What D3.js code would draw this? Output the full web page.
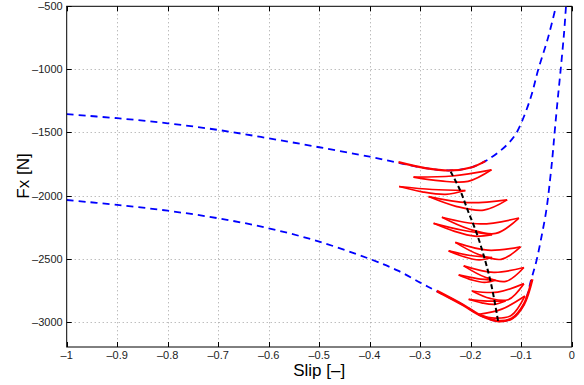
<!DOCTYPE html>
<html><head><meta charset="utf-8">
<script src="https://cdn.jsdelivr.net/npm/d3@7"></script>
<style>body{margin:0;background:#fff}svg{display:block}</style>
</head><body>
<script>
// ---- data ----
const xTicks = [-1,-0.9,-0.8,-0.7,-0.6,-0.5,-0.4,-0.3,-0.2,-0.1,0];
const yTicks = [-3000,-2500,-2000,-1500,-1000,-500];
const upperCurve = [[-1,-1355],[-0.9,-1387],[-0.8,-1427],[-0.7,-1480],[-0.6,-1546],[-0.5,-1617],[-0.4,-1692],[-0.344,-1740],[-0.29,-1782],[-0.2404,-1801],[-0.2,-1778],[-0.171,-1727],[-0.16,-1700],[-0.14,-1640],[-0.125,-1585],[-0.109,-1501],[-0.0826,-1242],[-0.0661,-999],[-0.0463,-741],[-0.0311,-500]];
const lowerCurve = [[-1,-2035],[-0.9,-2074],[-0.8,-2120],[-0.7,-2180],[-0.6,-2259],[-0.5,-2365],[-0.4,-2502],[-0.344,-2595],[-0.3,-2690],[-0.267,-2758],[-0.2172,-2862],[-0.1775,-2955],[-0.1444,-2995],[-0.1179,-2973],[-0.0947,-2862],[-0.08,-2663],[-0.07,-2520],[-0.06,-2330],[-0.05,-2110],[-0.043,-1880],[-0.038,-1690],[-0.0345,-1530],[-0.028,-1250],[-0.0218,-1000],[-0.0152,-714],[-0.0113,-500]];
const redUpper = [[-0.343,-1735],[-0.29,-1782],[-0.2404,-1801],[-0.1974,-1775],[-0.171,-1727]];
const redLower = [[-0.267,-2756],[-0.2172,-2862],[-0.1775,-2955],[-0.1444,-2995],[-0.1179,-2973],[-0.0947,-2862],[-0.0781,-2663]];
const blackLine = [[-0.2396,-1811],[-0.2212,-1956],[-0.2048,-2128],[-0.1881,-2299],[-0.1717,-2510],[-0.1584,-2722],[-0.1454,-3004]];
// loops: [leftTip, upperMid, rightTip, lowerB2, lowerB1]
const loop1 = [[-0.3132,-1854],[-0.2364,-1845],[-0.1589,-1796],[-0.2053,-1888],[-0.2596,-1884]];
const loop2 = [[-0.3417,-1928],[-0.2762,-1952],[-0.2106,-1960],[-0.2497,-1990],[-0.2960,-1970]];
const loop3 = [[-0.2834,-2008],[-0.2060,-2056],[-0.1278,-2034],[-0.1742,-2115],[-0.2291,-2085]];
const loop4 = [[-0.2570,-2172],[-0.1808,-2225],[-0.1046,-2178],[-0.1503,-2300],[-0.2033,-2265]];
const loop5 = [[-0.2735,-2220],[-0.2159,-2275],[-0.1576,-2310],[-0.1921,-2322],[-0.2331,-2282]];
const loop6 = [[-0.2305,-2371],[-0.1662,-2433],[-0.1013,-2406],[-0.1397,-2505],[-0.1854,-2465]];
const loop7 = [[-0.2437,-2438],[-0.2007,-2475],[-0.1576,-2491],[-0.1834,-2510],[-0.2132,-2485]];
const loop8 = [[-0.2139,-2557],[-0.1543,-2608],[-0.0947,-2570],[-0.1305,-2680],[-0.1722,-2645]];
const loop9 = [[-0.2238,-2629],[-0.1874,-2658],[-0.1510,-2671],[-0.1728,-2688],[-0.1980,-2668]];
const loop10 = [[-0.1974,-2756],[-0.1464,-2765],[-0.0947,-2698],[-0.1258,-2825],[-0.1616,-2815]];
const loop11 = [[-0.2040,-2822],[-0.1675,-2836],[-0.1311,-2836],[-0.1530,-2862],[-0.1781,-2850]];
const loop12 = [[-0.1841,-2942],[-0.1384,-2900],[-0.0927,-2796],[-0.1199,-2950],[-0.1523,-2971]];
const loops = [loop1,loop2,loop3,loop4,loop5,loop6,loop7,loop8,loop9,loop10,loop11,loop12];

// ---- chart ----
const W = 584, H = 385;
const L = 66.7, R = 571.7, T = 6.3, B = 347;
const x = d3.scaleLinear().domain([-1,0]).range([L,R]);
const y = d3.scaleLinear().domain([-3200,-500]).range([B,T]);
const fmt = v => (v < 0 ? "\u2013" : "") + String(Math.abs(v));

const svg = d3.select("body").append("svg").attr("width",W).attr("height",H)
  .style("font-family","'Liberation Sans', Arial, Helvetica, sans-serif");
svg.append("rect").attr("width",W).attr("height",H).attr("fill","#fff");

svg.append("clipPath").attr("id","clip").append("rect")
  .attr("x",L).attr("y",T).attr("width",R-L).attr("height",B-T);

// grid
const grid = svg.append("g").attr("stroke","#a0a0a0").attr("stroke-width",1).attr("stroke-dasharray","1,3");
grid.selectAll(".gx").data(xTicks.slice(1,-1)).enter().append("line")
  .attr("x1",d=>Math.round(x(d))+0.5).attr("x2",d=>Math.round(x(d))+0.5).attr("y1",T).attr("y2",B);
grid.selectAll(".gy").data(yTicks.filter(d=>d!==-500)).enter().append("line")
  .attr("y1",d=>Math.round(y(d))+0.5).attr("y2",d=>Math.round(y(d))+0.5).attr("x1",L).attr("x2",R);

const plot = svg.append("g").attr("clip-path","url(#clip)");
const line = d3.line().x(d=>x(d[0])).y(d=>y(d[1])).curve(d3.curveCatmullRom.alpha(0.5));

// blue dashed curves
[upperCurve, lowerCurve].forEach(c => {
  plot.append("path").attr("d",line(c)).attr("fill","none").attr("stroke","#0000ff")
    .attr("stroke-width",1.8).attr("stroke-dasharray","7,5");
});

// red trajectories
const red = plot.append("g").attr("fill","none").attr("stroke","#ff0000").attr("stroke-linejoin","round");
red.append("path").attr("d",line(redUpper)).attr("stroke-width",2.2);
red.append("path").attr("d",line(redLower)).attr("stroke-width",2.6);
loops.forEach(lp => {
  red.append("path").attr("d",line([lp[0],lp[1],lp[2]])).attr("stroke-width",1.7);
  red.append("path").attr("d",line([lp[2],lp[3],lp[4],lp[0]])).attr("stroke-width",1.7);
});

// black dashed
plot.append("path").attr("d",line(blackLine)).attr("fill","none").attr("stroke","#000")
  .attr("stroke-width",2).attr("stroke-dasharray","5,3");

// axes box with inward ticks
const ax = svg.append("g").attr("stroke","#000").attr("stroke-width",1);
ax.append("rect").attr("x",L).attr("y",T).attr("width",R-L).attr("height",B-T).attr("fill","none");
const tl = 5;
xTicks.forEach(d => {
  const px = Math.round(x(d))+0.5;
  ax.append("line").attr("x1",px).attr("x2",px).attr("y1",B).attr("y2",B-tl);
  ax.append("line").attr("x1",px).attr("x2",px).attr("y1",T).attr("y2",T+tl);
});
yTicks.forEach(d => {
  const py = Math.round(y(d))+0.5;
  ax.append("line").attr("y1",py).attr("y2",py).attr("x1",L).attr("x2",L+tl);
  ax.append("line").attr("y1",py).attr("y2",py).attr("x1",R).attr("x2",R-tl);
});

// tick labels
svg.append("g").selectAll("text").data(xTicks).enter().append("text")
  .attr("x",d=>x(d)).attr("y",B+12).attr("text-anchor","middle")
  .attr("font-size",11).attr("fill","#222").text(fmt);
svg.append("g").selectAll("text").data(yTicks).enter().append("text")
  .attr("x",L-4).attr("y",d=>y(d)+4).attr("text-anchor","end")
  .attr("font-size",11).attr("fill","#222").text(fmt);

// axis titles
svg.append("text").attr("x",(L+R)/2).attr("y",376).attr("text-anchor","middle")
  .attr("font-size",17).attr("fill","#000").text("Slip [\u2013]");
svg.append("text").attr("transform","translate(29,176) rotate(-90)").attr("text-anchor","middle")
  .attr("font-size",17).attr("fill","#000").text("Fx [N]");
</script>
</body></html>
